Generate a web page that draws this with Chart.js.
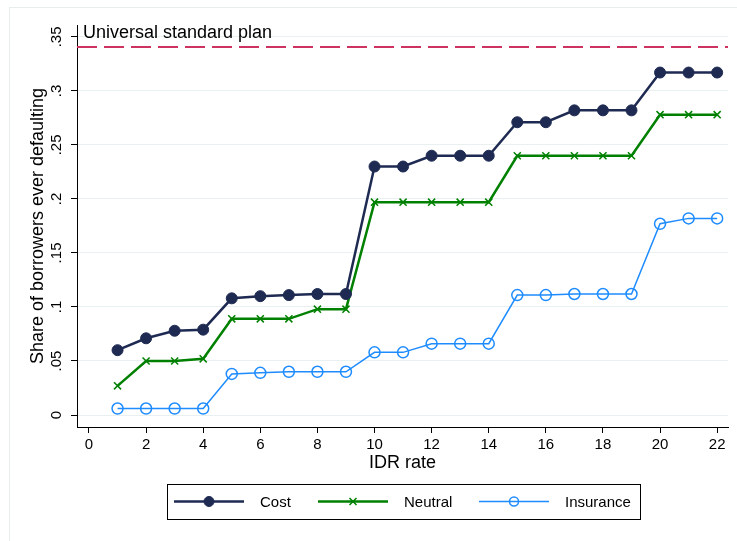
<!DOCTYPE html>
<html>
<head>
<meta charset="utf-8">
<script src="https://cdn.jsdelivr.net/npm/chart.js@4.4.1/dist/chart.umd.min.js"></script>
<style>
    html, body { margin: 0; padding: 0; background: #fff; overflow: hidden; }
    #wrap { position: relative; width: 737px; height: 541px; }
    #frame { position: absolute; left: 9px; top: 7px; width: 900px; height: 700px; border: 1px solid #e8eeee; }
    canvas { position: absolute; left: 0; top: 0; }
</style>
</head>
<body>
<div id="wrap">
    <div id="frame"></div>
    <canvas id="idrChart" width="737" height="541"></canvas>
</div>
<script>
// Data
const idrRates = [1, 2, 3, 4, 5, 6, 7, 8, 9, 10, 11, 12, 13, 14, 15, 16, 17, 18, 19, 20, 21, 22];
const costShare = [0.060, 0.071, 0.078, 0.079, 0.108, 0.110, 0.111, 0.112, 0.112, 0.230, 0.230, 0.240, 0.240, 0.240, 0.271, 0.271, 0.282, 0.282, 0.282, 0.317, 0.317, 0.317];
const neutralShare = [0.027, 0.050, 0.050, 0.052, 0.089, 0.089, 0.089, 0.098, 0.098, 0.197, 0.197, 0.197, 0.197, 0.197, 0.240, 0.240, 0.240, 0.240, 0.240, 0.278, 0.278, 0.278];
const insuranceShare = [0.006, 0.006, 0.006, 0.006, 0.038, 0.039, 0.040, 0.040, 0.040, 0.058, 0.058, 0.066, 0.066, 0.066, 0.111, 0.111, 0.112, 0.112, 0.112, 0.177, 0.182, 0.182];
const universalPlan = 0.3407;
const yTickValues = [0, 0.05, 0.1, 0.15, 0.2, 0.25, 0.3, 0.35];
const yTickLabels = ['0', '.05', '.1', '.15', '.2', '.25', '.3', '.35'];
const xTickValues = [0, 2, 4, 6, 8, 10, 12, 14, 16, 18, 20, 22];

const FONT = 'Liberation Sans, Arial, sans-serif';
const NAVY = '#1e2a52';
const GREEN = '#008000';
const BLUE = '#1e8cff';
const CRANBERRY = '#cc3360';

function toPoints(values) {
    return idrRates.map((r, i) => ({ x: r, y: values[i] }));
}

// Text label above the reference line + Stata-style legend (line with marker)
const annotations = {
    id: 'annotations',
    afterDraw(chart) {
        const ctx = chart.ctx;
        const area = chart.chartArea;
        const y = chart.scales.y.getPixelForValue(universalPlan);
        ctx.save();
        ctx.fillStyle = '#000';
        ctx.font = '18px ' + FONT;
        ctx.textBaseline = 'alphabetic';
        ctx.textAlign = 'left';
        ctx.fillText('Universal standard plan', area.left + 6, y - 9);

        // legend box
        const box = { left: 167, top: 484, right: 640, bottom: 519 };
        ctx.strokeStyle = '#000';
        ctx.lineWidth = 1;
        ctx.strokeRect(box.left + 0.5, box.top + 0.5, box.right - box.left, box.bottom - box.top);
        const midY = (box.top + box.bottom) / 2;
        const items = chart.data.datasets.filter(d => d.inLegend);
        const starts = [174, 318, 479];
        items.forEach((ds, i) => {
            const x0 = starts[i];
            const cx = x0 + 35;
            const r = ds.legendRadius;
            ctx.strokeStyle = ds.borderColor;
            ctx.lineWidth = ds.borderWidth;
            ctx.beginPath();
            ctx.moveTo(x0, midY);
            ctx.lineTo(x0 + 70, midY);
            ctx.stroke();

            ctx.fillStyle = ds.pointBackgroundColor;
            ctx.strokeStyle = ds.pointBorderColor;
            ctx.lineWidth = ds.pointBorderWidth;
            ctx.beginPath();
            if (ds.pointStyle === 'circle') {
                ctx.arc(cx, midY, r, 0, Math.PI * 2);
                if (ds.pointBackgroundColor !== 'transparent') ctx.fill();
                ctx.stroke();
            } else {
                ctx.moveTo(cx - r, midY - r); ctx.lineTo(cx + r, midY + r);
                ctx.moveTo(cx + r, midY - r); ctx.lineTo(cx - r, midY + r);
                ctx.stroke();
            }
            ctx.fillStyle = '#000';
            ctx.font = '15px ' + FONT;
            ctx.textBaseline = 'middle';
            ctx.fillText(ds.label, x0 + 86, midY + 1);
        });
        ctx.restore();
    }
};

const ctx = document.getElementById('idrChart').getContext('2d');

new Chart(ctx, {
    type: 'line',
    data: {
        datasets: [
            {
                label: 'Universal standard plan',
                data: [{ x: -0.42, y: universalPlan }, { x: 22.38, y: universalPlan }],
                borderColor: CRANBERRY,
                borderWidth: 2,
                borderDash: [20, 7],
                pointRadius: 0,
                order: 5
            },
            {
                label: 'Cost',
                inLegend: true,
                data: toPoints(costShare),
                borderColor: NAVY,
                borderWidth: 2.5,
                pointStyle: 'circle',
                pointRadius: 5.5,
                legendRadius: 5,
                pointBackgroundColor: NAVY,
                pointBorderColor: NAVY,
                pointBorderWidth: 1,
                order: 1
            },
            {
                label: 'Neutral',
                inLegend: true,
                data: toPoints(neutralShare),
                borderColor: GREEN,
                borderWidth: 2.5,
                pointStyle: 'crossRot',
                pointRadius: 5,
                legendRadius: 3.5,
                pointBackgroundColor: GREEN,
                pointBorderColor: GREEN,
                pointBorderWidth: 1.5,
                order: 2
            },
            {
                label: 'Insurance',
                inLegend: true,
                data: toPoints(insuranceShare),
                borderColor: BLUE,
                borderWidth: 1.5,
                pointStyle: 'circle',
                pointRadius: 5.5,
                legendRadius: 4.5,
                pointBackgroundColor: 'transparent',
                pointBorderColor: BLUE,
                pointBorderWidth: 1.5,
                order: 3
            }
        ]
    },
    options: {
        responsive: false,
        animation: false,
        layout: {
            padding: { left: 0, top: 25, right: 9, bottom: 64 }
        },
        plugins: {
            legend: { display: false },
            tooltip: { enabled: false }
        },
        elements: {
            line: { tension: 0 }
        },
        scales: {
            x: {
                type: 'linear',
                min: -0.42,
                max: 22.38,
                afterBuildTicks(scale) {
                    scale.ticks = xTickValues.map(v => ({ value: v }));
                },
                afterFit(scale) {
                    scale.height = 50;
                },
                border: { color: '#000', width: 1 },
                grid: {
                    drawOnChartArea: false,
                    tickColor: '#000',
                    tickLength: 6
                },
                ticks: {
                    color: '#000',
                    font: { family: FONT, size: 15 },
                    padding: 3,
                    maxRotation: 0,
                    autoSkip: false,
                    callback: v => String(v)
                },
                title: {
                    display: true,
                    text: 'IDR rate',
                    color: '#000',
                    font: { family: FONT, size: 18 },
                    padding: { top: 0, bottom: 3 }
                }
            },
            y: {
                type: 'linear',
                min: -0.0111,
                max: 0.361,
                afterBuildTicks(scale) {
                    scale.ticks = yTickValues.map(v => ({ value: v }));
                },
                afterFit(scale) {
                    scale.width = 77;
                },
                border: { color: '#000', width: 1 },
                grid: {
                    color: '#e9f0f1',
                    lineWidth: 1,
                    tickColor: '#000',
                    tickLength: 6
                },
                ticks: {
                    color: '#000',
                    font: { family: FONT, size: 15 },
                    padding: 4,
                    minRotation: 90,
                    maxRotation: 90,
                    crossAlign: 'center',
                    autoSkip: false,
                    callback: v => yTickLabels[yTickValues.indexOf(v)] ?? ''
                },
                title: {
                    display: true,
                    text: 'Share of borrowers ever defaulting',
                    color: '#000',
                    font: { family: FONT, size: 18 },
                    padding: { top: 27, bottom: 0 }
                }
            }
        }
    },
    plugins: [annotations]
});
</script>
</body>
</html>
